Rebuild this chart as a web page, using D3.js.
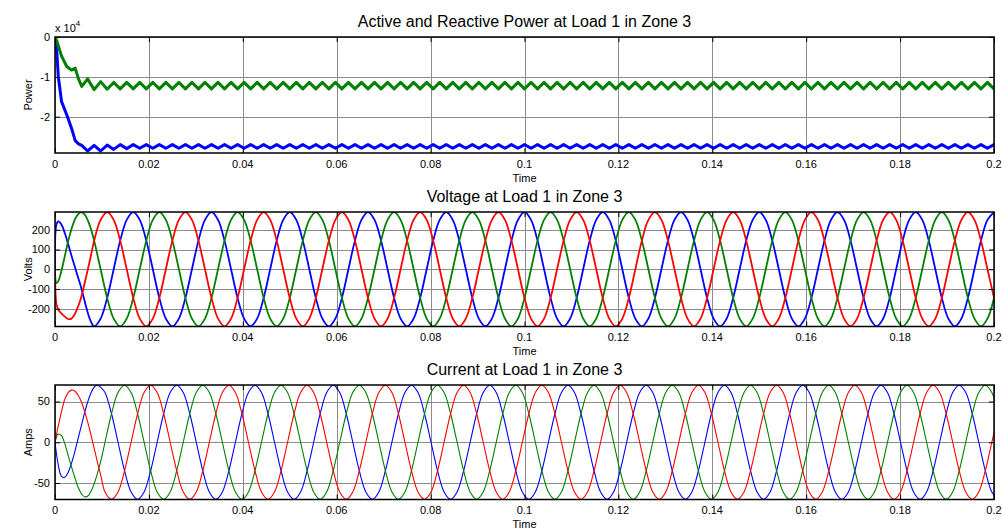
<!DOCTYPE html>
<html><head><meta charset="utf-8">
<script src="https://cdn.jsdelivr.net/npm/d3@7"></script>
<style>
html,body{margin:0;padding:0;background:#fff;}
svg{display:block;font-family:"Liberation Sans",Arial,sans-serif;}
</style></head><body>
<svg id="chart" width="1003" height="529"></svg>
<script>
// ---------------- DATA ----------------
const xTicks = [0,0.02,0.04,0.06,0.08,0.1,0.12,0.14,0.16,0.18,0.2];
const xTickLabels = ["0","0.02","0.04","0.06","0.08","0.1","0.12","0.14","0.16","0.18","0.2"];
const powerTicks = [-2,-1,0];
const powerTickLabels = ["-2","-1","0"];
const voltTicks = [-200,-100,0,100,200];
const voltTickLabels = ["-200","-100","0","100","200"];
const ampTicks = [-50,0,50];
const ampTickLabels = ["-50","0","50"];

const sampleStep = 1/720; // s, sampling interval of the steady-state readings

// Power panel (values in units of 1e4)
const powerStartTime = [0,0.0004,0.0007,0.0014,0.0025,0.0035,0.0043,0.0050,0.0057];
const activeStart   = [0,-0.41,-0.99,-1.62,-1.95,-2.28,-2.60,-2.68,-2.72];
const reactiveStart = [0,-0.10,-0.22,-0.48,-0.74,-0.83,-0.78,-1.05,-1.24];
const powerGridFirst = 5, powerGridOffset = 0;
const activeSteady = [
-2.86,-2.72,-2.86,-2.71,-2.82,-2.70,-2.80,-2.70,
-2.79,-2.70,-2.79,-2.70,-2.79,-2.70,-2.79,-2.70,-2.79,-2.70,-2.79,-2.70,
-2.79,-2.70,-2.79,-2.70,-2.79,-2.70,-2.79,-2.70,-2.79,-2.70,-2.79,-2.70,
-2.79,-2.70,-2.79,-2.70,-2.79,-2.70,-2.79,-2.70,-2.79,-2.70,-2.79,-2.70,
-2.79,-2.70,-2.79,-2.70,-2.79,-2.70,-2.79,-2.70,-2.79,-2.70,-2.79,-2.70,
-2.79,-2.70,-2.79,-2.70,-2.79,-2.70,-2.79,-2.70,-2.79,-2.70,-2.79,-2.70,
-2.79,-2.70,-2.79,-2.70,-2.79,-2.70,-2.79,-2.70,-2.79,-2.70,-2.79,-2.70,
-2.79,-2.70,-2.79,-2.70,-2.79,-2.70,-2.79,-2.70,-2.79,-2.70,-2.79,-2.70,
-2.79,-2.70,-2.79,-2.70,-2.79,-2.70,-2.79,-2.70,-2.79,-2.70,-2.79,-2.70,
-2.79,-2.70,-2.79,-2.70,-2.79,-2.70,-2.79,-2.70,-2.79,-2.70,-2.79,-2.70,
-2.79,-2.70,-2.79,-2.70,-2.79,-2.70,-2.79,-2.70,-2.79,-2.70,-2.79,-2.70,
-2.79,-2.70,-2.79,-2.70,-2.79,-2.70,-2.79,-2.70,-2.79,-2.70,-2.79,-2.70
];
const reactiveSteady = [
-1.05,-1.32,-1.12,-1.31,-1.14,-1.30,
-1.14,-1.30,-1.14,-1.30,-1.14,-1.30,-1.14,-1.30,-1.14,-1.30,-1.14,-1.30,
-1.14,-1.30,-1.14,-1.30,-1.14,-1.30,-1.14,-1.30,-1.14,-1.30,-1.14,-1.30,
-1.14,-1.30,-1.14,-1.30,-1.14,-1.30,-1.14,-1.30,-1.14,-1.30,-1.14,-1.30,
-1.14,-1.30,-1.14,-1.30,-1.14,-1.30,-1.14,-1.30,-1.14,-1.30,-1.14,-1.30,
-1.14,-1.30,-1.14,-1.30,-1.14,-1.30,-1.14,-1.30,-1.14,-1.30,-1.14,-1.30,
-1.14,-1.30,-1.14,-1.30,-1.14,-1.30,-1.14,-1.30,-1.14,-1.30,-1.14,-1.30,
-1.14,-1.30,-1.14,-1.30,-1.14,-1.30,-1.14,-1.30,-1.14,-1.30,-1.14,-1.30,
-1.14,-1.30,-1.14,-1.30,-1.14,-1.30,-1.14,-1.30,-1.14,-1.30,-1.14,-1.30,
-1.14,-1.30,-1.14,-1.30,-1.14,-1.30,-1.14,-1.30,-1.14,-1.30,-1.14,-1.30,
-1.14,-1.30,-1.14,-1.30,-1.14,-1.30,-1.14,-1.30,-1.14,-1.30,-1.14,-1.30,
-1.14,-1.30,-1.14,-1.30,-1.14,-1.30,-1.14,-1.30,-1.14,-1.30,-1.14,-1.30,
-1.14,-1.30
];

// Voltage panel (V)
const voltStartTime = [0,0.0003,0.0007,0.0014,0.0021,0.0028,0.0035,0.0042,0.0049,0.0056,0.0063,0.0070,0.0077];
const voltBlueStart  = [0,225,242,225,182,128,70,15,-40,-95,-160,-222,-268];
const voltGreenStart = [0,-70,-60,-5,68,142,203,250,278,289,278,247,200];
const voltRedStart   = [0,-175,-205,-225,-240,-252,-250,-228,-190,-140,-72,0,75];
const voltGridFirst = 6, voltGridOffset = 0;
const voltBlueSteady = [
-289,-250,-145,0,145,250,289,250,145,0,-145,-250,
-289,-250,-145,0,145,250,289,250,145,0,-145,-250,
-289,-250,-145,0,145,250,289,250,145,0,-145,-250,
-289,-250,-145,0,145,250,289,250,145,0,-145,-250,
-289,-250,-145,0,145,250,289,250,145,0,-145,-250,
-289,-250,-145,0,145,250,289,250,145,0,-145,-250,
-289,-250,-145,0,145,250,289,250,145,0,-145,-250,
-289,-250,-145,0,145,250,289,250,145,0,-145,-250,
-289,-250,-145,0,145,250,289,250,145,0,-145,-250,
-289,-250,-145,0,145,250,289,250,145,0,-145,-250,
-289,-250,-145,0,145,250,289,250,145,0,-145,-250,
-289,-250,-145,0,145,250,289
];
const voltGreenSteady = [
145,0,-145,-250,-289,-250,-145,0,145,250,289,250,
145,0,-145,-250,-289,-250,-145,0,145,250,289,250,
145,0,-145,-250,-289,-250,-145,0,145,250,289,250,
145,0,-145,-250,-289,-250,-145,0,145,250,289,250,
145,0,-145,-250,-289,-250,-145,0,145,250,289,250,
145,0,-145,-250,-289,-250,-145,0,145,250,289,250,
145,0,-145,-250,-289,-250,-145,0,145,250,289,250,
145,0,-145,-250,-289,-250,-145,0,145,250,289,250,
145,0,-145,-250,-289,-250,-145,0,145,250,289,250,
145,0,-145,-250,-289,-250,-145,0,145,250,289,250,
145,0,-145,-250,-289,-250,-145,0,145,250,289,250,
145,0,-145,-250,-289,-250,-145
];
const voltRedSteady = [
145,250,289,250,145,0,-145,-250,-289,-250,-145,0,
145,250,289,250,145,0,-145,-250,-289,-250,-145,0,
145,250,289,250,145,0,-145,-250,-289,-250,-145,0,
145,250,289,250,145,0,-145,-250,-289,-250,-145,0,
145,250,289,250,145,0,-145,-250,-289,-250,-145,0,
145,250,289,250,145,0,-145,-250,-289,-250,-145,0,
145,250,289,250,145,0,-145,-250,-289,-250,-145,0,
145,250,289,250,145,0,-145,-250,-289,-250,-145,0,
145,250,289,250,145,0,-145,-250,-289,-250,-145,0,
145,250,289,250,145,0,-145,-250,-289,-250,-145,0,
145,250,289,250,145,0,-145,-250,-289,-250,-145,0,
145,250,289,250,145,0,-145
];

// Current panel (A)
const ampStartTime = [0,0.0007,0.0014,0.0021,0.0028,0.0035,0.0042,0.0049,0.0056,0.0063,0.0070,0.0077,0.0084,0.0091,0.0098];
const ampBlueStart  = [0,-28,-42,-43,-37,-26,-12,4,20,36,50,61,68,70,67];
const ampGreenStart = [0,10,8,-2,-16,-30,-43,-55,-63,-67,-66,-60,-50,-37,-22];
const ampRedStart   = [0,20,38,53,61,64,63,58,50,38,24,8,-9,-26,-42];
const ampGridFirst = 7, ampGridOffset = 1/1080;
const ampBlueSteady = [
61,35,0,-35,-61,-70,-61,-35,0,35,61,70,
61,35,0,-35,-61,-70,-61,-35,0,35,61,70,
61,35,0,-35,-61,-70,-61,-35,0,35,61,70,
61,35,0,-35,-61,-70,-61,-35,0,35,61,70,
61,35,0,-35,-61,-70,-61,-35,0,35,61,70,
61,35,0,-35,-61,-70,-61,-35,0,35,61,70,
61,35,0,-35,-61,-70,-61,-35,0,35,61,70,
61,35,0,-35,-61,-70,-61,-35,0,35,61,70,
61,35,0,-35,-61,-70,-61,-35,0,35,61,70,
61,35,0,-35,-61,-70,-61,-35,0,35,61,70,
61,35,0,-35,-61,-70,-61,-35,0,35,61,70,
61,35,0,-35,-61,-70
];
const ampGreenSteady = [
0,35,61,70,61,35,0,-35,-61,-70,-61,-35,
0,35,61,70,61,35,0,-35,-61,-70,-61,-35,
0,35,61,70,61,35,0,-35,-61,-70,-61,-35,
0,35,61,70,61,35,0,-35,-61,-70,-61,-35,
0,35,61,70,61,35,0,-35,-61,-70,-61,-35,
0,35,61,70,61,35,0,-35,-61,-70,-61,-35,
0,35,61,70,61,35,0,-35,-61,-70,-61,-35,
0,35,61,70,61,35,0,-35,-61,-70,-61,-35,
0,35,61,70,61,35,0,-35,-61,-70,-61,-35,
0,35,61,70,61,35,0,-35,-61,-70,-61,-35,
0,35,61,70,61,35,0,-35,-61,-70,-61,-35,
0,35,61,70,61,35
];
const ampRedSteady = [
-61,-70,-61,-35,0,35,61,70,61,35,0,-35,
-61,-70,-61,-35,0,35,61,70,61,35,0,-35,
-61,-70,-61,-35,0,35,61,70,61,35,0,-35,
-61,-70,-61,-35,0,35,61,70,61,35,0,-35,
-61,-70,-61,-35,0,35,61,70,61,35,0,-35,
-61,-70,-61,-35,0,35,61,70,61,35,0,-35,
-61,-70,-61,-35,0,35,61,70,61,35,0,-35,
-61,-70,-61,-35,0,35,61,70,61,35,0,-35,
-61,-70,-61,-35,0,35,61,70,61,35,0,-35,
-61,-70,-61,-35,0,35,61,70,61,35,0,-35,
-61,-70,-61,-35,0,35,61,70,61,35,0,-35,
-61,-70,-61,-35,0,35
];

// ---------------- DRAWING ----------------
const svg = d3.select("#chart");
const X0 = 55, X1 = 994;
const x = d3.scaleLinear().domain([0, 0.2]).range([X0, X1]);
const gridTimes = (first, count, offset) => d3.range(first, first + count).map(k => offset + k * sampleStep);
const join = (t0, v0, first, offset, vs) => {
  const t = t0.concat(gridTimes(first, vs.length, offset));
  const v = v0.concat(vs);
  return t.map((tt, i) => [tt, v[i]]);
};
const BLUE = "#0000ff", GREEN = "#008000", RED = "#ff0000";

function panel(cfg) {
  const { id, top, bottom, yDomain, yTicks, yTickLabels, title, ylabel, series } = cfg;
  const y = d3.scaleLinear().domain(yDomain).range([bottom, top]);
  const h = bottom - top, w = X1 - X0;
  const g = svg.append("g");
  svg.append("clipPath").attr("id", id).append("rect")
    .attr("x", X0).attr("y", top).attr("width", w).attr("height", h);

  // grid
  g.append("g").attr("transform", `translate(0,${bottom})`)
    .call(d3.axisBottom(x).tickValues(xTicks).tickSize(-h).tickFormat(""))
    .call(s => { s.select(".domain").remove(); s.selectAll("line").attr("stroke", "#8c8c8c").attr("shape-rendering","crispEdges"); });
  g.append("g").attr("transform", `translate(${X0},0)`)
    .call(d3.axisLeft(y).tickValues(yTicks).tickSize(-w).tickFormat(""))
    .call(s => { s.select(".domain").remove(); s.selectAll("line").attr("stroke", "#8c8c8c").attr("shape-rendering","crispEdges"); });

  // data lines
  const lg = g.append("g").attr("clip-path", `url(#${id})`);
  series.forEach(s => {
    lg.append("path").datum(s.data)
      .attr("fill", "none").attr("stroke", s.color).attr("stroke-width", s.width)
      .attr("stroke-linejoin", "round").attr("stroke-linecap", "round")
      .attr("d", d3.line().x(d => x(d[0])).y(d => y(d[1])).curve(s.curve));
  });

  // box
  g.append("rect").attr("x", X0).attr("y", top).attr("width", w).attr("height", h)
    .attr("fill", "none").attr("stroke", "#000").attr("stroke-width", 1.5);

  // inward tick marks on all sides
  const tk = s => { s.select(".domain").remove(); s.selectAll("line").attr("stroke", "#000"); };
  g.append("g").attr("transform", `translate(0,${bottom})`).call(d3.axisBottom(x).tickValues(xTicks).tickSize(-5).tickFormat("")).call(tk);
  g.append("g").attr("transform", `translate(0,${top})`).call(d3.axisTop(x).tickValues(xTicks).tickSize(-5).tickFormat("")).call(tk);
  g.append("g").attr("transform", `translate(${X0},0)`).call(d3.axisLeft(y).tickValues(yTicks).tickSize(-5).tickFormat("")).call(tk);
  g.append("g").attr("transform", `translate(${X1},0)`).call(d3.axisRight(y).tickValues(yTicks).tickSize(-5).tickFormat("")).call(tk);

  // tick labels
  g.selectAll(".xl").data(xTicks).join("text")
    .attr("x", d => x(d)).attr("y", bottom + 14.5).attr("text-anchor", "middle")
    .attr("font-size", 11).text((d, i) => xTickLabels[i]);
  g.selectAll(".yl").data(yTicks).join("text")
    .attr("x", X0 - 5).attr("y", d => y(d)).attr("dy", "0.35em").attr("text-anchor", "end")
    .attr("font-size", 11).text((d, i) => yTickLabels[i]);

  g.append("text").attr("x", (X0 + X1) / 2).attr("y", bottom + 28.8).attr("text-anchor", "middle")
    .attr("font-size", 11).text("Time");
  g.append("text").attr("x", (X0 + X1) / 2).attr("y", top - 10).attr("text-anchor", "middle")
    .attr("font-size", 16).text(title);
  g.append("text").attr("transform", `translate(32,${(top + bottom) / 2}) rotate(-90)`)
    .attr("text-anchor", "middle").attr("font-size", 11).text(ylabel);
  return y;
}

panel({
  id: "cp1", top: 37, bottom: 153, yDomain: [-2.91, 0],
  yTicks: powerTicks, yTickLabels: powerTickLabels,
  title: "Active and Reactive Power at Load 1 in Zone 3", ylabel: "Power",
  series: [
    { color: BLUE, width: 3, curve: d3.curveLinear, data: join(powerStartTime, activeStart, powerGridFirst, powerGridOffset, activeSteady) },
    { color: GREEN, width: 3, curve: d3.curveLinear, data: join(powerStartTime, reactiveStart, powerGridFirst, powerGridOffset, reactiveSteady) }
  ]
});
// exponent label
const ex = svg.append("text").attr("x", 55).attr("y", 32).attr("font-size", 11);
ex.append("tspan").text("x 10");
ex.append("tspan").attr("font-size", 8).attr("dy", -6).text("4");

panel({
  id: "cp2", top: 212, bottom: 326.5, yDomain: [-290, 290],
  yTicks: voltTicks, yTickLabels: voltTickLabels,
  title: "Voltage at Load 1 in Zone 3", ylabel: "Volts",
  series: [
    { color: BLUE, width: 1.8, curve: d3.curveCatmullRom, data: join(voltStartTime, voltBlueStart, voltGridFirst, voltGridOffset, voltBlueSteady) },
    { color: GREEN, width: 1.8, curve: d3.curveCatmullRom, data: join(voltStartTime, voltGreenStart, voltGridFirst, voltGridOffset, voltGreenSteady) },
    { color: RED, width: 1.8, curve: d3.curveCatmullRom, data: join(voltStartTime, voltRedStart, voltGridFirst, voltGridOffset, voltRedSteady) }
  ]
});

panel({
  id: "cp3", top: 385, bottom: 499.5, yDomain: [-70.3, 70.3],
  yTicks: ampTicks, yTickLabels: ampTickLabels,
  title: "Current at Load 1 in Zone 3", ylabel: "Amps",
  series: [
    { color: BLUE, width: 1.1, curve: d3.curveCatmullRom, data: join(ampStartTime, ampBlueStart, ampGridFirst, ampGridOffset, ampBlueSteady) },
    { color: GREEN, width: 1.1, curve: d3.curveCatmullRom, data: join(ampStartTime, ampGreenStart, ampGridFirst, ampGridOffset, ampGreenSteady) },
    { color: RED, width: 1.1, curve: d3.curveCatmullRom, data: join(ampStartTime, ampRedStart, ampGridFirst, ampGridOffset, ampRedSteady) }
  ]
});
</script>
</body></html>
